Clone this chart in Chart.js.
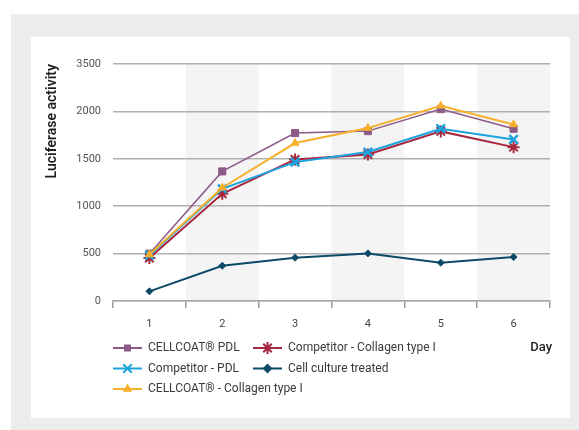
<!DOCTYPE html>
<html>
<head>
<meta charset="utf-8">
<script src="https://cdn.jsdelivr.net/npm/chart.js@4"></script>
<style>
  body { margin: 0; background: #fff; }
  #frame { position: absolute; left: 11px; top: 14px; width: 568px; height: 416px; background: #ececec; }
  #panel { position: absolute; left: 31px; top: 37px; width: 539px; height: 381px; background: #fff; }
  #chart { position: absolute; left: 0; top: 0; }
</style>
</head>
<body>
<div id="frame"></div>
<div id="panel"></div>
<canvas id="chart" width="579" height="430"></canvas>
<script>
var days = ['1', '2', '3', '4', '5', '6'];
var yTickValues = [0, 500, 1000, 1500, 2000, 2500];
var yTickLabels = ['0', '500', '1000', '1500', '2000', '3500'];

var cellcoatPdl = [499, 1367, 1771, 1792, 2024, 1817];
var competitorCollagen = [453, 1131, 1493, 1546, 1789, 1623];
var competitorPdl = [481, 1184, 1465, 1571, 1817, 1704];
var cellCulture = [102, 372, 457, 502, 404, 464];
var cellcoatCollagen = [490, 1195, 1666, 1824, 2059, 1862];

var font = 'Roboto, "DejaVu Sans", sans-serif';

function series(label, data, color, style, radius, width, order, pointBorder) {
    return {
        label: label,
        data: data,
        borderColor: color,
        backgroundColor: color,
        borderWidth: width,
        pointStyle: style,
        pointRadius: radius,
        pointBorderWidth: pointBorder,
        pointHoverRadius: radius,
        tension: 0,
        order: order
    };
}

var datasets = [
    series('CELLCOAT® PDL', cellcoatPdl, '#8b5a86', 'rect', 5, 1.5, 3, 1),
    series('Competitor - Collagen type I', competitorCollagen, '#a6263d', 'star', 6, 2, 2, 2),
    series('Competitor - PDL', competitorPdl, '#1ba3df', 'crossRot', 6, 2, 1, 2.5),
    series('Cell culture treated', cellCulture, '#0c4a68', 'rectRot', 3.5, 2, 4, 1),
    series('CELLCOAT® - Collagen type I', cellcoatCollagen, '#f6b02a', 'triangle', 4.5, 2, 0, 1)
];

// shade every second day column
var stripes = {
    id: 'stripes',
    beforeDraw: function (chart) {
        var ctx = chart.ctx, area = chart.chartArea, x = chart.scales.x;
        var w = (area.right - area.left) / days.length;
        ctx.save();
        ctx.fillStyle = '#f4f4f4';
        for (let i = 1; i < days.length; i += 2) {
            let cx = x.getPixelForValue(i);
            ctx.fillRect(cx - w / 2, area.top, w, area.bottom - area.top);
        }
        ctx.restore();
    }
};

// legend in two columns plus the "Day" label
var legendBox = {
    id: 'legendBox',
    afterDraw: function (chart) {
        var ctx = chart.ctx;
        var cols = [113, 253];
        var rows = [348, 368.5, 389];
        ctx.save();
        chart.data.datasets.forEach(function (ds, i) {
            let x = cols[i % 2], y = rows[Math.floor(i / 2)];
            let spoke = ds.pointStyle === 'star' || ds.pointStyle === 'crossRot';
            ctx.strokeStyle = ds.borderColor;
            ctx.fillStyle = ds.backgroundColor;
            ctx.lineWidth = 2;
            ctx.beginPath();
            ctx.moveTo(x, y);
            ctx.lineTo(x + 29, y);
            ctx.stroke();
            Chart.helpers.drawPoint(ctx, {
                pointStyle: ds.pointStyle,
                radius: spoke ? 6 : 3.5,
                rotation: 0,
                borderWidth: spoke ? 2 : 1
            }, x + 14.5, y);
            ctx.fillStyle = '#3a3a3a';
            ctx.font = '12px ' + font;
            ctx.textBaseline = 'middle';
            ctx.textAlign = 'left';
            ctx.fillText(ds.label, x + 35, y);
        });
        ctx.fillStyle = '#1e1e1e';
        ctx.font = '500 13px ' + font;
        ctx.textAlign = 'right';
        ctx.fillText('Day', 552, 348);
        ctx.restore();
    }
};

new Chart(document.getElementById('chart'), {
    type: 'line',
    data: { labels: days, datasets: datasets },
    plugins: [stripes, legendBox],
    options: {
        responsive: false,
        animation: false,
        devicePixelRatio: 1,
        layout: { padding: { left: 44, right: 29, top: 64, bottom: 99 } },
        plugins: { legend: { display: false }, tooltip: { enabled: false } },
        scales: {
            x: {
                offset: true,
                grid: { display: true, drawOnChartArea: false, offset: true, tickLength: 7, color: '#9a9a9a', lineWidth: 1.5 },
                border: { display: true, color: '#a8a8a8', width: 1.5 },
                ticks: { color: '#444', font: { family: font, size: 11 }, padding: 10 },
                afterFit: function (s) { s.height = 30; }
            },
            y: {
                min: 0,
                max: 2500,
                afterBuildTicks: function (s) {
                    s.ticks = yTickValues.map(function (v) { return { value: v }; });
                },
                grid: { color: '#b0b0b0', lineWidth: 1.5, drawTicks: false },
                border: { display: false },
                ticks: {
                    color: '#555',
                    font: { family: font, size: 11 },
                    padding: 12,
                    callback: function (v) { return yTickLabels[yTickValues.indexOf(v)]; }
                },
                title: {
                    display: true,
                    text: 'Luciferase activity',
                    align: 'end',
                    color: '#1e1e1e',
                    font: { family: font, size: 14, weight: '600' },
                    padding: 0
                },
                afterFit: function (s) { s.width = 69; }
            }
        }
    }
});
</script>
</body>
</html>
